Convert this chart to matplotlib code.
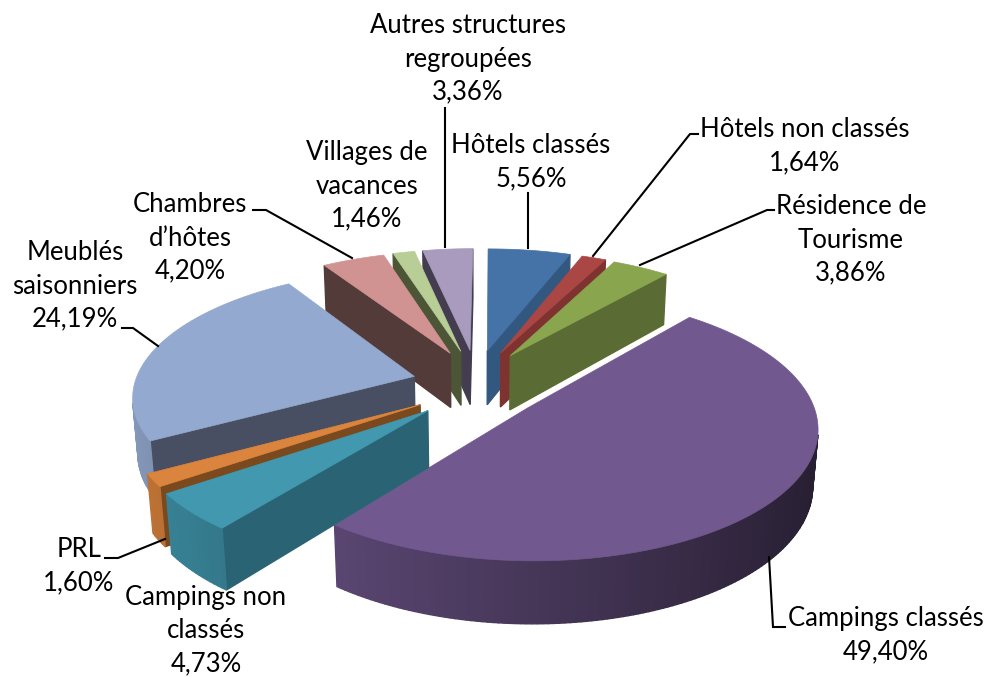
import numpy as np
import matplotlib
matplotlib.use('Agg')
import matplotlib.pyplot as plt
from matplotlib.colors import to_rgb
from matplotlib.patches import Polygon

# data, order of the slices clockwise from 12 o'clock
names = ['Hôtels classés', 'Hôtels non classés', 'Résidence de\nTourisme', 'Campings classés',
         'Campings non\nclassés', 'PRL', 'Meublés\nsaisonniers', 'Chambres\nd’hôtes',
         'Villages de\nvacances', 'Autres structures\nregroupées']
values = [5.56, 1.64, 3.86, 49.40, 4.73, 1.60, 24.19, 4.20, 1.46, 3.36]
value_labels = ['5,56%', '1,64%', '3,86%', '49,40%', '4,73%', '1,60%', '24,19%', '4,20%', '1,46%', '3,36%']

top_colors = ['#4572A7', '#AA4643', '#89A54E', '#71588F', '#4198AF', '#DB843D',
              '#93A9CF', '#D19392', '#B9CD96', '#A99BBD']
cut_colors = ['#335880', '#7F3331', '#5A6B33', '#3F3050', '#2A6474', '#7A4A1E',
              '#484F62', '#533B3A', '#4C5636', '#433D4F']

label_pos = [(531, 162), (805, 146), (851, 240), (886, 635), (206, 631),
             (79, 566), (75, 286), (190, 238), (367, 186), (468, 59)]
leaders = [[(528, 193), (528, 248)],
           [(698, 134), (690, 134), (593, 256)],
           [(774, 210), (767, 210), (640, 265)],
           [(769, 557), (773, 627), (785, 627)],
           [],
           [(105, 558), (118, 558), (165, 539)],
           [(122, 328), (133, 328), (158, 346)],
           [(253, 210), (266, 210), (352, 258)],
           [],
           [(445, 108), (445, 247)]]

# view of the pie
cx, cy = 476, 385
scale = 280
skew = 2
elev = np.arcsin(0.445)
dist = 6.5
explode_x = 0.23
explode_y = 0.29
thick = 0.225


def project(x, y, z):
    v = y * np.sin(elev) + z * np.cos(elev)
    w = y * np.cos(elev) - z * np.sin(elev)
    s = dist / (dist + w)
    return cx + scale * x * s + skew * y, cy - scale * v * s


def area(pts):
    x, y = np.array(pts).T
    return np.sum(x * np.roll(y, -1) - np.roll(x, -1) * y)


def shade(color, f):
    return tuple(min(1, c * f) for c in to_rgb(color))


fig = plt.figure(figsize=(9.87, 6.77), dpi=100)
ax = fig.add_axes([0, 0, 1, 1])
ax.set_xlim(0, 987)
ax.set_ylim(677, 0)
ax.axis('off')

fracs = np.array(values) / np.sum(values) * 2 * np.pi
ends = np.cumsum(fracs)
starts = ends - fracs
mids = (starts + ends) / 2

z = 2.0
for i in np.argsort(-np.cos(mids)):
    ox = explode_x * np.sin(mids[i])
    oy = explode_y * np.cos(mids[i])
    th = np.linspace(starts[i], ends[i], max(int(fracs[i] * 60), 4))
    rx = ox + np.sin(th)
    ry = oy + np.cos(th)
    top = [project(ox, oy, 0)] + [project(a, b, 0) for a, b in zip(rx, ry)]
    bot = [project(ox, oy, -thick)] + [project(a, b, -thick) for a, b in zip(rx, ry)]
    n = len(top)
    for k in range(n):
        m = (k + 1) % n
        quad = [top[k], top[m], bot[m], bot[k]]
        if area(quad) < 0:
            if k == 0 or k == n - 1:
                fc = to_rgb(cut_colors[i])
            else:
                t = (th[k - 1] + th[k]) / 2
                fc = shade(top_colors[i], 0.62 - 0.28 * np.sin(t))
            ax.add_patch(Polygon(quad, closed=True, fc=fc, ec=fc, lw=1.0, zorder=z))
            z += 0.001
    ax.add_patch(Polygon(top, closed=True, fc=top_colors[i], ec=top_colors[i], lw=0.5, zorder=z))
    z += 0.001

for line in leaders:
    if line:
        xs, ys = zip(*line)
        ax.plot(xs, ys, color='black', lw=1.5, zorder=50, solid_joinstyle='miter')

for name, val, pos in zip(names, value_labels, label_pos):
    ax.text(pos[0], pos[1], name + '\n' + val, ha='center', va='center', multialignment='center',
            family='Lato', fontsize=18.5, linespacing=1.41, color='black', zorder=60)

fig.savefig('out.png', dpi=100)
